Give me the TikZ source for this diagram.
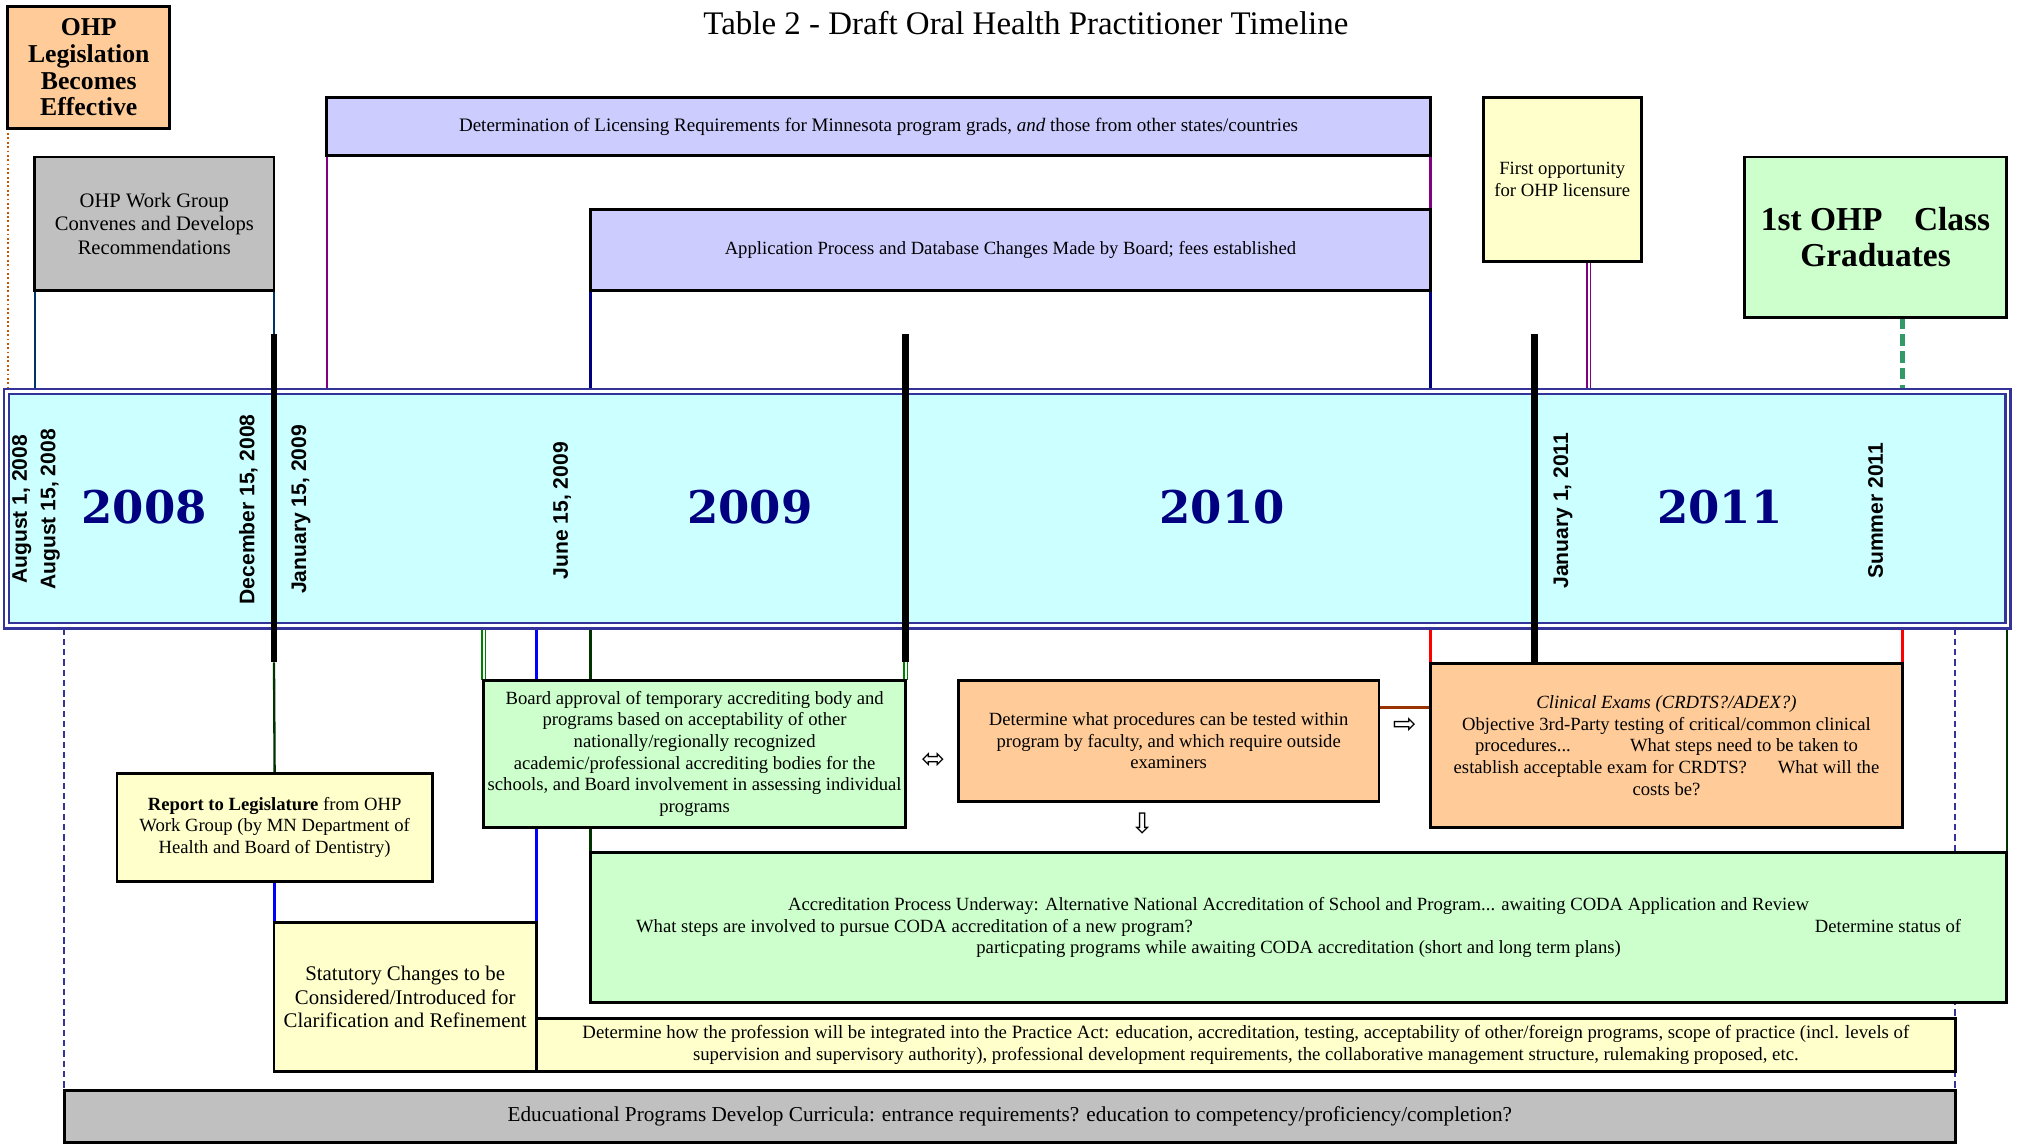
\documentclass[tikz,border=0pt]{standalone}
\usepackage{fontspec}
\setmainfont{Liberation Serif}
\newfontfamily\datefont{Liberation Sans}
\newfontfamily\yearfont{DejaVu Serif}
\newfontfamily\symfont{DejaVu Sans}
\usetikzlibrary{calc}
\definecolor{peach}{HTML}{FFCC99}
\definecolor{lav}{HTML}{CCCCFF}
\definecolor{lyel}{HTML}{FFFFCC}
\definecolor{lgrn}{HTML}{CCFFCC}
\definecolor{gbox}{HTML}{C0C0C0}
\definecolor{cyanf}{HTML}{CCFFFF}
\definecolor{barblue}{HTML}{333399}
\definecolor{navyc}{HTML}{000080}
\definecolor{purp}{HTML}{800080}
\definecolor{dgrn}{HTML}{003300}
\definecolor{grn}{HTML}{008000}
\definecolor{blu}{HTML}{0000FF}
\definecolor{redc}{HTML}{FF0000}
\definecolor{brwn}{HTML}{993300}
\definecolor{gdashc}{HTML}{339966}
\definecolor{wgc}{HTML}{003366}
\definecolor{dotc}{HTML}{CC5500}
\pgfdeclarelayer{bg}
\pgfsetlayers{bg,main}
\begin{document}
\begin{tikzpicture}[x=1pt,y=-1pt,
  box/.style={draw, line width=2.2pt, inner sep=0pt, outer sep=0pt, align=center, anchor=north west},
  body/.style={font=\fontsize{14.5}{16.8}\selectfont},
  yearlbl/.style={font={\yearfont\fontsize{35}{40}\selectfont\bfseries}, text=navyc, anchor=base, inner sep=0pt},
  datelbl/.style={font={\datefont\fontsize{16.4}{18}\selectfont\bfseries}, rotate=90, inner sep=0pt},
  symlbl/.style={font={\symfont\fontsize{22}{22}\selectfont}, inner sep=0pt},
  sepline/.style={line width=5pt, black},
  thinline/.style={line width=1.8pt},
  dblline/.style={line width=1.3pt, double=white, double distance=1.4pt}
]
\useasboundingbox (0,0) rectangle (1568,892);

% title
\node[font=\fontsize{25.6}{28}\selectfont, anchor=base, inner sep=0pt] (title) at (797.5,27) {Table 2 - Draft Oral Health Practitioner Timeline};

% upper boxes
\node[box, fill=peach, minimum width=126pt, minimum height=95pt, font=\fontsize{20}{20.7}\selectfont\bfseries] (leg) at (6,5) {OHP\\Legislation\\Becomes\\Effective};
\node[box, fill=gbox, minimum width=186pt, minimum height=104pt, font=\fontsize{16}{18.5}\selectfont] (wg) at (27,122) {OHP Work Group\\Convenes and Develops\\Recommendations};
\node[box, fill=lav, minimum width=858pt, minimum height=45pt, font=\fontsize{14.8}{16.8}\selectfont] (lic) at (254,76) {Determination of Licensing Requirements for Minnesota program grads, \textit{and} those from other states/countries};
\node[box, fill=lav, minimum width=653pt, minimum height=63pt, body] (app) at (459,163) {Application Process and Database Changes Made by Board; fees established};
\node[box, fill=lyel, minimum width=123pt, minimum height=127pt, body] (first) at (1153,76) {First opportunity\\for OHP licensure};
\node[box, fill=lgrn, minimum width=204pt, minimum height=125pt, font=\fontsize{26}{28}\selectfont\bfseries] (grad) at (1356,122) {1st OHP\hspace{18pt} Class\\Graduates};

% timeline bar
\node[draw=barblue, line width=1.8pt, inner sep=0pt, outer sep=0pt, minimum width=1560pt, minimum height=186pt, anchor=north west] (bar) at (3,302.5) {};
\draw[barblue, line width=1.8pt, fill=cyanf] ([shift={(4,4)}]bar.north west) rectangle ([shift={(-4,-4)}]bar.south east);

% lower boxes
\node[box, fill=lgrn, minimum width=328pt, minimum height=114pt, body] (board) at (376,529) {Board approval of temporary accrediting body and\\programs based on acceptability of other\\nationally/regionally recognized\\academic/professional accrediting bodies for the\\schools, and Board involvement in assessing individual\\programs};
\node[box, fill=peach, minimum width=327pt, minimum height=94pt, body] (proc) at (745,529) {Determine what procedures can be tested within\\program by faculty, and which require outside\\examiners};
\node[box, fill=peach, minimum width=367pt, minimum height=127pt, body] (clin) at (1112,516) {\textit{Clinical Exams (CRDTS?/ADEX?)}\\Objective 3rd-Party testing of critical/common clinical\\procedures...\hspace{46pt}What steps need to be taken to\\establish acceptable exam for CRDTS?\hspace{24pt}What will the\\costs be?};
\node[box, fill=lyel, minimum width=245pt, minimum height=84pt, body] (rep) at (91,601) {\textbf{Report to Legislature} from OHP\\Work Group (by MN Department of\\Health and Board of Dentistry)};
\node[box, fill=lyel, minimum width=204pt, minimum height=116pt, font=\fontsize{16.2}{18.4}\selectfont] (stat) at (213,717) {Statutory Changes to be\\Considered/Introduced for\\Clarification and Refinement};
\node[box, fill=lgrn, minimum width=1101pt, minimum height=116pt, body] (accr) at (459,663) {Accreditation Process Underway: Alternative National Accreditation of School and Program... awaiting CODA Application and Review\\\hbox to 1030pt{What steps are involved to pursue CODA accreditation of a new program?\hfill Determine status of}\\particpating programs while awaiting CODA accreditation (short and long term plans)};
\node[box, fill=lyel, minimum width=1103pt, minimum height=41pt, font=\fontsize{14.6}{16.8}\selectfont] (prac) at (417,792) {Determine how the profession will be integrated into the Practice Act: education, accreditation, testing, acceptability of other/foreign programs, scope of practice (incl. levels of\\supervision and supervisory authority), professional development requirements, the collaborative management structure, rulemaking proposed, etc.};
\node[box, fill=gbox, minimum width=1470pt, minimum height=40pt, font=\fontsize{16.5}{18}\selectfont] (edu) at (50,848) {Educuational Programs Develop Curricula: entrance requirements? education to competency/proficiency/completion?};

% separators
\coordinate (s1t) at (213,260);
\coordinate (s1b) at (213,515);
\coordinate (s2t) at (704,260);
\coordinate (s2b) at (704,515);
\coordinate (s3t) at (1193,260);
\coordinate (fpx) at (1235,0);
\coordinate (gx) at (1479,0);
\draw[sepline] (s1t) -- (s1b);
\draw[sepline] (s2t) -- (s2b);
\draw[sepline] (s3t) -- (s3t |- clin.north);

% years and dates
\node[yearlbl] (y08) at (112,407) {2008};
\node[yearlbl] (y09) at (583,407) {2009};
\node[yearlbl] (y10) at (950,407) {2010};
\node[yearlbl] (y11) at (1337,407) {2011};
\node[datelbl] (d1) at (17,396) {August 1, 2008};
\node[datelbl] (d2) at (39,396) {August 15, 2008};
\node[datelbl] (d3) at (193,396) {December 15, 2008};
\node[datelbl] (d4) at (234,396) {January 15, 2009};
\node[datelbl] (d5) at (437,397) {June 15, 2009};
\node[datelbl] (d6) at (1215,397) {January 1, 2011};
\node[datelbl] (d7) at (1458,397) {Summer 2011};

% arrows
\node[symlbl] (a1) at (725.5,591) {⬄};
\node[symlbl] (a2) at (1092,564) {⇨};
\node[symlbl] (a3) at (888,640) {⇩};

% connectors
\begin{pgfonlayer}{bg}
\draw[dotc, line width=1.4pt, dotted] (leg.south west) -- (leg.south west |- bar.north);
\draw[wgc, thinline] (wg.south west) -- (wg.south west |- bar.north);
\draw[wgc, thinline] (wg.south east) -- (s1t);
\draw[purp, thinline] (lic.south west) -- (lic.south west |- bar.north);
\draw[purp, thinline] (lic.south east) -- (app.north east);
\draw[navyc, thinline] (app.south west) -- (app.south west |- bar.north);
\draw[navyc, thinline] (app.south east) -- (app.south east |- bar.north);
\draw[purp, dblline] (first.south -| fpx) -- (fpx |- bar.north);
\draw[gdashc, line width=3.5pt, dash pattern=on 9pt off 4pt] (grad.south -| gx) -- (gx |- bar.north);
% below bar
\draw[barblue, line width=1.8pt, dash pattern=on 5pt off 3pt] (edu.north west |- bar.south) -- (edu.north west);
\draw[barblue, line width=1.8pt, dash pattern=on 5pt off 3pt] (edu.north east |- bar.south) -- (edu.north east);
\draw[dgrn, thinline] (accr.north east |- bar.south) -- (accr.north east);
\draw[dgrn, thinline] (s1b) -- (rep.north);
\draw[blu, thinline] (rep.south) -- (rep.south |- stat.north);
\draw[grn, dblline] (board.north west |- bar.south) -- (board.north west);
\draw[blu, thinline] (stat.north east |- bar.south) -- (stat.north east |- board.north);
\draw[blu, thinline] (stat.north east |- board.south) -- (stat.north east);
\draw[dgrn, thinline] (accr.north west |- bar.south) -- (accr.north west |- board.north);
\draw[dgrn, thinline] (accr.north west |- board.south) -- (accr.north west);
\draw[grn, dblline] (s2b) -- (board.north east);
\draw[redc, thinline] (clin.north west |- bar.south) -- (clin.north west);
\draw[redc, thinline] (clin.north east |- bar.south) -- (clin.north east);
\draw[brwn, line width=2pt] ([yshift=-21pt]proc.north east) -- ([yshift=-21pt]proc.north east -| clin.west);
\end{pgfonlayer}
\end{tikzpicture}
\end{document}
